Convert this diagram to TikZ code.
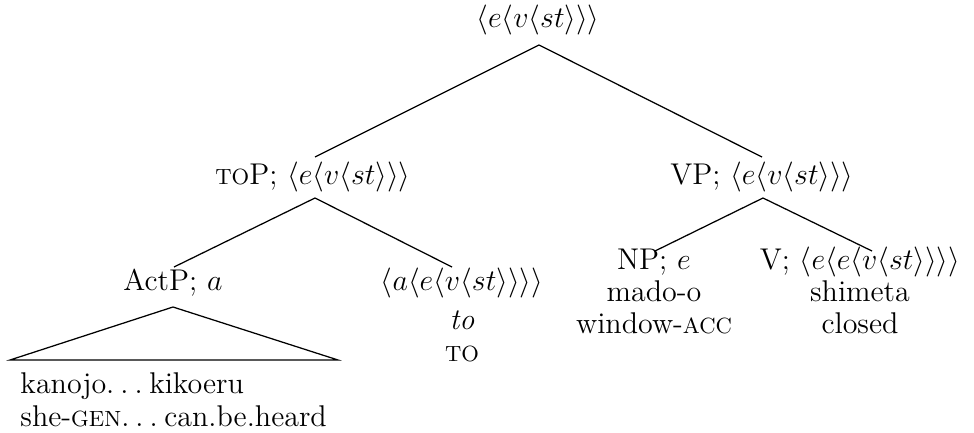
\documentclass[tikz,border=0pt]{standalone}
\usepackage{fontspec}
\setmainfont{Latin Modern Roman}
\newcommand{\tyA}{$\langle e\langle v\langle st\rangle\rangle\rangle$}
\newcommand{\fsc}[1]{{\fontsize{8.8}{10}\selectfont\MakeUppercase{#1}}}
\newcommand{\dotsx}{.\kern0.2em.\kern0.2em.\kern0.22em}
\begin{document}
\begin{tikzpicture}[x=0.4pt,y=-0.4pt,
  lbl/.style={anchor=base,inner sep=0pt,font=\fontsize{12}{14}\selectfont},
  lbll/.style={anchor=base west,inner sep=0pt,font=\fontsize{12}{14}\selectfont},
  edge/.style={draw=black,line width=0.5pt}]
\useasboundingbox (0,0) rectangle (974,433);
% nodes
\node[lbl] (root) at (538,27) {\tyA};
\node[lbl] (top) at (313,184) {\fsc{to}P; \tyA};
\node[lbl] (vp) at (762,184) {VP; \tyA};
\node[lbl] (actp) at (173,290) {ActP; $a$};
\node[lbl] (at) at (462,290) {$\langle a\langle e\langle v\langle st\rangle\rangle\rangle\rangle$};
\node[lbl] (to1) at (462,329) {\textit{to}};
\node[lbl] (to2) at (462,361) {\fsc{to}};
\node[lbl] (np) at (654,269) {NP; $e$};
\node[lbl] (np1) at (654,301) {mado-o};
\node[lbl] (np2) at (654,333) {window-\fsc{acc}};
\node[lbl] (v) at (860,269) {V; $\langle e\langle e\langle v\langle st\rangle\rangle\rangle\rangle$};
\node[lbl] (v1) at (860,301) {shimeta};
\node[lbl] (v2) at (860,333) {closed};
\node[lbll] (kan) at (20,393) {kanojo\dotsx kikoeru};
\node[lbll] (she) at (20,426) {she-\fsc{gen}\dotsx can.be.heard};
% edges
\draw[edge] ([shift={(1,18)}]root.base) -- ([shift={(2,-27)}]top.base);
\draw[edge] ([shift={(1,18)}]root.base) -- ([shift={(0,-27)}]vp.base);
\draw[edge] ([shift={(2,14)}]top.base) -- ([shift={(1,-23)}]actp.base);
\draw[edge] ([shift={(2,14)}]top.base) -- ([shift={(-10,-23)}]at.base);
\draw[edge] ([shift={(1,14)}]vp.base) -- ([shift={(1,-18)}]np.base);
\draw[edge] ([shift={(1,14)}]vp.base) -- ([shift={(12,-18)}]v.base);
\draw[edge] ([shift={(0,17)}]actp.base) -- ([shift={(-10,-33)}]kan.base west)
  -- ([shift={(318,-33)}]kan.base west) -- cycle;
\end{tikzpicture}
\end{document}
